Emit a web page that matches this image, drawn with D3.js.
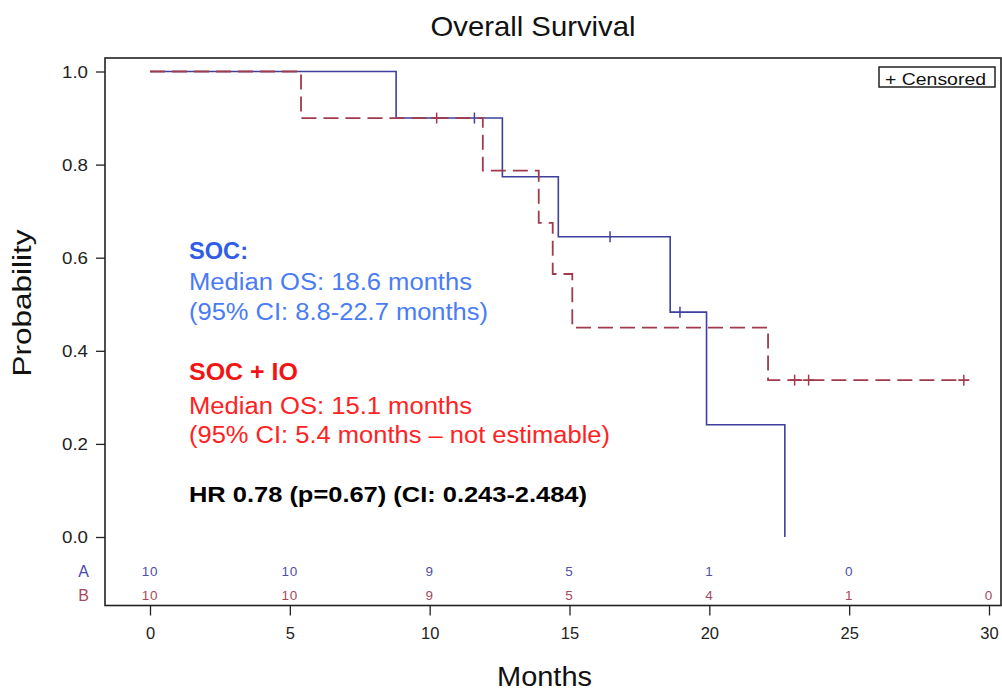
<!DOCTYPE html>
<html>
<head>
<meta charset="utf-8">
<script src="https://cdn.jsdelivr.net/npm/d3@7/dist/d3.min.js"></script>
<style>
  html, body { margin: 0; padding: 0; background: #fff; }
  svg { display: block; font-family: "Liberation Sans", Arial, sans-serif; }
</style>
</head>
<body>
<svg id="chart" width="1002" height="692"></svg>
<script>
// ---------- data ----------
const socTime = [0, 8.8, 12.6, 14.6, 18.6, 19.9, 22.7];
const socSurv = [1.0, 0.9, 0.774, 0.645, 0.483, 0.241, 0.0];
const socCensor = [11.6, 16.45, 18.95];

const ioTime = [0, 5.4, 11.9, 13.9, 14.4, 15.1, 22.1];
const ioSurv = [1.0, 0.9, 0.787, 0.675, 0.565, 0.45, 0.337];
const ioEnd = 29.1;
const ioCensor = [10.25, 23.05, 23.55, 29.1];

const xTicks = [0, 5, 10, 15, 20, 25, 30];
const yTicks = [0.0, 0.2, 0.4, 0.6, 0.8, 1.0];
const riskA = [10, 10, 9, 5, 1, 0];
const riskB = [10, 10, 9, 5, 4, 1, 0];

const title = "Overall Survival";
const xLabel = "Months";
const yLabel = "Probability";

// ---------- layout ----------
const svg = d3.select("#chart");
const x = d3.scaleLinear().domain([0, 30]).range([150, 989]);
const y = d3.scaleLinear().domain([0, 1]).range([537, 71.5]);
const frame = {x0: 105, y0: 58, x1: 1001, y1: 605.5};

const blue = "#3f3f9d";
const red = "#a13a4c";

// frame
svg.append("rect")
  .attr("x", frame.x0).attr("y", frame.y0)
  .attr("width", frame.x1 - frame.x0).attr("height", frame.y1 - frame.y0)
  .attr("fill", "none").attr("stroke", "#222").attr("stroke-width", 1.6);

// y axis
const yAxis = svg.append("g").attr("transform", `translate(${frame.x0},0)`)
  .call(d3.axisLeft(y).tickValues(yTicks).tickSize(9).tickSizeOuter(0).tickFormat(d3.format(".1f")));
yAxis.select(".domain").remove();
yAxis.selectAll(".tick line").attr("stroke", "#222").attr("stroke-width", 1.3);
yAxis.selectAll(".tick text")
  .attr("x", -17).attr("dy", "0.36em")
  .attr("font-size", 16).attr("fill", "#222")
  .attr("font-family", "Liberation Sans, Arial, sans-serif")
  .attr("textLength", 26).attr("lengthAdjust", "spacingAndGlyphs");

// x axis
const xAxis = svg.append("g").attr("transform", `translate(0,${frame.y1})`)
  .call(d3.axisBottom(x).tickValues(xTicks).tickSize(10).tickSizeOuter(0).tickFormat(d3.format("d")));
xAxis.select(".domain").remove();
xAxis.selectAll(".tick line").attr("stroke", "#222").attr("stroke-width", 1.3);
xAxis.selectAll(".tick text")
  .attr("y", 22).attr("dy", "0.71em")
  .attr("font-size", 16.5).attr("fill", "#222")
  .attr("font-family", "Liberation Sans, Arial, sans-serif");

// ---------- curves ----------
const line = d3.line().x(d => x(d[0])).y(d => y(d[1])).curve(d3.curveStepAfter);

function survAt(times, surv, t) {
  let s = surv[0];
  for (let i = 0; i < times.length; i++) if (times[i] <= t) s = surv[i];
  return s;
}

const socPts = socTime.map((t, i) => [t, socSurv[i]]);
const ioPts = ioTime.map((t, i) => [t, ioSurv[i]]);
ioPts.push([ioEnd, ioSurv[ioSurv.length - 1]]);

svg.append("path").attr("d", line(socPts))
  .attr("fill", "none").attr("stroke", blue).attr("stroke-width", 1.6);

svg.append("path").attr("d", line(ioPts))
  .attr("fill", "none").attr("stroke", red).attr("stroke-width", 1.8)
  .attr("stroke-dasharray", "15,7");

// censor marks
svg.selectAll(".cA").data(socCensor).join("line")
  .attr("x1", d => x(d)).attr("x2", d => x(d))
  .attr("y1", d => y(survAt(socTime, socSurv, d)) - 5.5)
  .attr("y2", d => y(survAt(socTime, socSurv, d)) + 5.5)
  .attr("stroke", blue).attr("stroke-width", 1.5);

svg.selectAll(".cB").data(ioCensor).join("line")
  .attr("x1", d => x(d)).attr("x2", d => x(d))
  .attr("y1", d => y(survAt(ioTime, ioSurv, d)) - 5.5)
  .attr("y2", d => y(survAt(ioTime, ioSurv, d)) + 5.5)
  .attr("stroke", red).attr("stroke-width", 1.5);
svg.selectAll(".cBh").data(ioCensor).join("line")
  .attr("x1", d => x(d) - 5.5).attr("x2", d => x(d) + 5.5)
  .attr("y1", d => y(survAt(ioTime, ioSurv, d)))
  .attr("y2", d => y(survAt(ioTime, ioSurv, d)))
  .attr("stroke", red).attr("stroke-width", 1.8);

// ---------- risk table ----------
svg.selectAll(".rA").data(riskA).join("text")
  .attr("x", (d, i) => x(xTicks[i])).attr("y", 575.5)
  .attr("text-anchor", "middle").attr("font-size", 13.5).attr("fill", "#5050a8")
  .attr("letter-spacing", 0.8)
  .text(d => d);
svg.selectAll(".rB").data(riskB).join("text")
  .attr("x", (d, i) => x(xTicks[i])).attr("y", 599.5)
  .attr("text-anchor", "middle").attr("font-size", 13.5).attr("fill", "#a84a5c")
  .attr("letter-spacing", 0.8)
  .text(d => d);
svg.append("text").attr("x", 89).attr("y", 577).attr("text-anchor", "end")
  .attr("font-size", 16).attr("fill", "#4a4ab0").text("A");
svg.append("text").attr("x", 89).attr("y", 600.5).attr("text-anchor", "end")
  .attr("font-size", 16).attr("fill", "#a84a5c").text("B");

// ---------- titles ----------
svg.append("text").attr("x", 533).attr("y", 35.5).attr("text-anchor", "middle")
  .attr("font-size", 28).attr("fill", "#111")
  .attr("textLength", 205).attr("lengthAdjust", "spacingAndGlyphs").text(title);
svg.append("text").attr("x", 497).attr("y", 686)
  .attr("font-size", 27).attr("fill", "#111")
  .attr("textLength", 95).attr("lengthAdjust", "spacingAndGlyphs").text(xLabel);
svg.append("text").attr("transform", "translate(31,303) rotate(-90)")
  .attr("text-anchor", "middle")
  .attr("font-size", 26).attr("fill", "#111")
  .attr("textLength", 147).attr("lengthAdjust", "spacingAndGlyphs").text(yLabel);

// ---------- legend ----------
svg.append("rect").attr("x", 879).attr("y", 67).attr("width", 116).attr("height", 20)
  .attr("fill", "#fff").attr("stroke", "#222").attr("stroke-width", 1.5);
svg.append("text").attr("x", 885).attr("y", 84.5)
  .attr("font-size", 16).attr("fill", "#111")
  .attr("textLength", 101).attr("lengthAdjust", "spacingAndGlyphs").text("+ Censored");

// ---------- annotations ----------
const notes = [
  {t: "SOC:", y: 259, w: 59, c: "#2f5de6", b: true, s: 24},
  {t: "Median OS: 18.6 months", y: 290, w: 283, c: "#4a7cf6", b: false, s: 23},
  {t: "(95% CI: 8.8-22.7 months)", y: 320, w: 299, c: "#4a7cf6", b: false, s: 23},
  {t: "SOC + IO", y: 380, w: 109, c: "#f01414", b: true, s: 24},
  {t: "Median OS: 15.1 months", y: 413.5, w: 283, c: "#ff2222", b: false, s: 23},
  {t: "(95% CI: 5.4 months \u2013 not estimable)", y: 443, w: 421, c: "#ff2222", b: false, s: 23},
  {t: "HR 0.78 (p=0.67) (CI: 0.243-2.484)", y: 501.5, w: 398, c: "#000", b: true, s: 22}
];
svg.selectAll(".note").data(notes).join("text")
  .attr("x", 189).attr("y", d => d.y)
  .attr("font-size", d => d.s).attr("font-weight", d => d.b ? "bold" : "normal")
  .attr("fill", d => d.c)
  .attr("textLength", d => d.w).attr("lengthAdjust", "spacingAndGlyphs")
  .text(d => d.t);
</script>
</body>
</html>
